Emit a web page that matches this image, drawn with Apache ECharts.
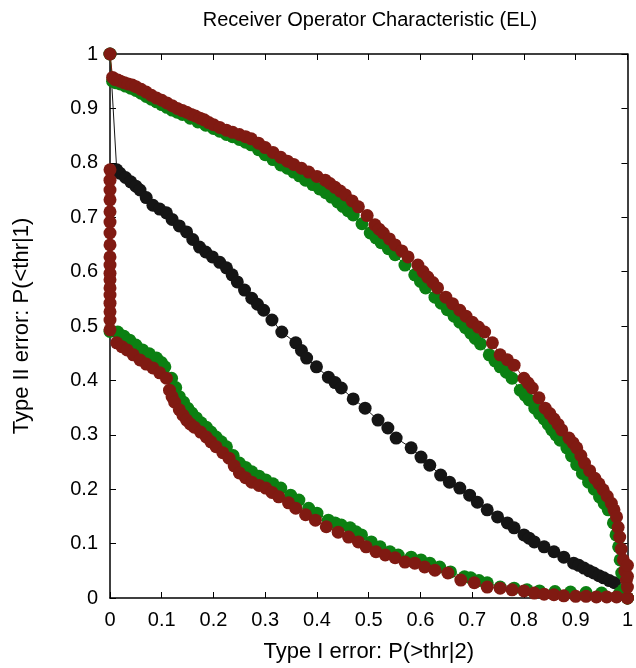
<!DOCTYPE html>
<html>
<head>
<meta charset="utf-8">
<script src="https://cdn.jsdelivr.net/npm/echarts@6/dist/echarts.min.js"></script>
<style>html,body{margin:0;padding:0;background:#fff}#c{width:636px;height:668px}</style>
</head>
<body>
<div id="c"></div>
<script>
const titleText = "Receiver Operator Characteristic (EL)";
const xName = "Type I error: P(>thr|2)";
const yName = "Type II error: P(<thr|1)";

const greenUpper = [[0,1],[0.005,0.95],[0.012,0.947],[0.02,0.945],[0.03,0.941],[0.04,0.937],[0.05,0.933],[0.06,0.928],[0.07,0.922],[0.08,0.917],[0.09,0.912],[0.1,0.907],[0.11,0.902],[0.12,0.897],[0.13,0.893],[0.14,0.889],[0.155,0.882],[0.17,0.875],[0.185,0.869],[0.2,0.863],[0.212,0.858],[0.225,0.852],[0.237,0.848],[0.25,0.843],[0.262,0.838],[0.273,0.833],[0.287,0.824],[0.3,0.815],[0.315,0.806],[0.33,0.796],[0.343,0.79],[0.355,0.783],[0.366,0.776],[0.378,0.768],[0.392,0.76],[0.405,0.752],[0.417,0.745],[0.428,0.737],[0.44,0.728],[0.45,0.72],[0.46,0.712],[0.47,0.704],[0.487,0.688],[0.503,0.671],[0.514,0.662],[0.524,0.653],[0.538,0.642],[0.551,0.631],[0.57,0.612],[0.589,0.594],[0.6,0.582],[0.61,0.57],[0.628,0.553],[0.64,0.542],[0.652,0.53],[0.665,0.518],[0.676,0.507],[0.687,0.497],[0.697,0.487],[0.706,0.477],[0.716,0.467],[0.733,0.447],[0.744,0.436],[0.754,0.425],[0.766,0.415],[0.777,0.404],[0.793,0.382],[0.802,0.373],[0.81,0.364],[0.821,0.349],[0.83,0.339],[0.839,0.329],[0.847,0.319],[0.854,0.309],[0.862,0.3],[0.87,0.29],[0.883,0.276],[0.892,0.261],[0.902,0.245],[0.913,0.229],[0.925,0.213],[0.936,0.2],[0.946,0.186],[0.955,0.174],[0.963,0.162],[0.973,0.138],[0.978,0.116],[0.983,0.094],[0.986,0.07],[0.989,0.046],[0.992,0.015],[1,0]];

const greenLower = [[0,0.49],[0.015,0.489],[0.027,0.481],[0.038,0.474],[0.05,0.465],[0.063,0.456],[0.076,0.449],[0.09,0.441],[0.099,0.433],[0.106,0.425],[0.119,0.404],[0.127,0.387],[0.134,0.37],[0.142,0.36],[0.15,0.349],[0.158,0.34],[0.167,0.331],[0.176,0.322],[0.186,0.314],[0.195,0.305],[0.205,0.296],[0.215,0.287],[0.225,0.278],[0.238,0.262],[0.25,0.248],[0.262,0.24],[0.274,0.232],[0.288,0.224],[0.301,0.217],[0.315,0.21],[0.33,0.202],[0.349,0.189],[0.365,0.18],[0.384,0.165],[0.4,0.156],[0.422,0.143],[0.435,0.138],[0.447,0.134],[0.464,0.129],[0.475,0.122],[0.486,0.116],[0.505,0.103],[0.522,0.094],[0.541,0.085],[0.557,0.079],[0.582,0.075],[0.601,0.07],[0.618,0.064],[0.637,0.057],[0.658,0.048],[0.685,0.039],[0.697,0.037],[0.713,0.032],[0.729,0.028],[0.754,0.02],[0.781,0.018],[0.806,0.015],[0.83,0.013],[0.86,0.012],[0.89,0.011],[0.92,0.01],[0.95,0.009],[0.985,0.009],[1,0]];

const redUpper = [[0,1],[0.005,0.957],[0.01,0.953],[0.015,0.952],[0.02,0.95],[0.028,0.947],[0.035,0.945],[0.043,0.943],[0.05,0.94],[0.06,0.935],[0.07,0.93],[0.08,0.924],[0.09,0.919],[0.1,0.915],[0.11,0.91],[0.12,0.905],[0.13,0.9],[0.14,0.896],[0.148,0.893],[0.157,0.889],[0.165,0.886],[0.174,0.882],[0.182,0.879],[0.191,0.874],[0.2,0.87],[0.212,0.865],[0.225,0.86],[0.237,0.856],[0.25,0.852],[0.262,0.848],[0.273,0.844],[0.287,0.836],[0.3,0.828],[0.315,0.819],[0.33,0.81],[0.343,0.803],[0.355,0.797],[0.37,0.79],[0.384,0.783],[0.4,0.775],[0.416,0.768],[0.425,0.762],[0.435,0.755],[0.445,0.748],[0.455,0.741],[0.468,0.73],[0.48,0.719],[0.497,0.703],[0.512,0.686],[0.52,0.678],[0.528,0.671],[0.54,0.66],[0.551,0.649],[0.564,0.638],[0.576,0.627],[0.595,0.612],[0.605,0.6],[0.614,0.59],[0.624,0.58],[0.633,0.57],[0.649,0.553],[0.662,0.541],[0.676,0.529],[0.688,0.518],[0.7,0.507],[0.712,0.498],[0.724,0.489],[0.739,0.469],[0.754,0.447],[0.768,0.438],[0.781,0.428],[0.8,0.404],[0.808,0.395],[0.816,0.386],[0.829,0.368],[0.841,0.349],[0.85,0.339],[0.858,0.329],[0.866,0.319],[0.873,0.309],[0.887,0.294],[0.895,0.285],[0.902,0.276],[0.91,0.262],[0.917,0.248],[0.927,0.234],[0.937,0.22],[0.945,0.21],[0.953,0.199],[0.961,0.187],[0.969,0.174],[0.974,0.162],[0.979,0.149],[0.982,0.13],[0.985,0.112],[0.988,0.09],[0.992,0.07],[0.995,0.05],[0.998,0.033],[1,0]];

const redLower = [[0,0.787],[0,0.768],[0,0.75],[0,0.732],[0,0.71],[0,0.691],[0,0.671],[0,0.649],[0,0.627],[0,0.612],[0,0.597],[0,0.585],[0,0.57],[0,0.557],[0,0.542],[0,0.526],[0,0.511],[0,0.493],[0.013,0.469],[0.023,0.462],[0.033,0.456],[0.045,0.447],[0.058,0.4375],[0.07,0.43],[0.083,0.423],[0.096,0.414],[0.109,0.404],[0.115,0.382],[0.12,0.37],[0.125,0.36],[0.134,0.346],[0.141,0.336],[0.148,0.327],[0.155,0.32],[0.163,0.314],[0.175,0.305],[0.186,0.296],[0.195,0.287],[0.205,0.278],[0.218,0.267],[0.23,0.257],[0.24,0.243],[0.25,0.23],[0.262,0.221],[0.274,0.213],[0.288,0.207],[0.301,0.202],[0.313,0.194],[0.326,0.186],[0.345,0.175],[0.359,0.165],[0.378,0.153],[0.397,0.143],[0.418,0.131],[0.441,0.121],[0.461,0.112],[0.48,0.103],[0.495,0.094],[0.514,0.085],[0.532,0.079],[0.551,0.074],[0.57,0.066],[0.589,0.064],[0.608,0.057],[0.628,0.051],[0.653,0.046],[0.678,0.033],[0.704,0.028],[0.729,0.02],[0.754,0.018],[0.777,0.015],[0.8,0.013],[0.82,0.009],[0.839,0.007],[0.858,0.006],[0.877,0.004],[0.9,0.003],[0.92,0.003],[0.94,0.002],[0.96,0.002],[0.979,0.002],[1,0],[1,0.02],[1,0.04],[1,0.06]];

const blackCurve = [[0,1],[0.013,0.787],[0.019,0.781],[0.03,0.773],[0.04,0.765],[0.05,0.757],[0.058,0.75],[0.07,0.736],[0.083,0.722],[0.096,0.715],[0.109,0.708],[0.12,0.696],[0.134,0.684],[0.148,0.673],[0.16,0.659],[0.173,0.645],[0.185,0.636],[0.198,0.627],[0.212,0.617],[0.225,0.607],[0.236,0.594],[0.246,0.581],[0.26,0.566],[0.274,0.551],[0.285,0.54],[0.297,0.529],[0.313,0.511],[0.332,0.489],[0.359,0.469],[0.37,0.455],[0.38,0.441],[0.399,0.425],[0.422,0.406],[0.435,0.396],[0.447,0.386],[0.47,0.366],[0.493,0.349],[0.518,0.327],[0.537,0.3125],[0.553,0.294],[0.582,0.276],[0.601,0.259],[0.618,0.244],[0.639,0.226],[0.656,0.213],[0.676,0.202],[0.695,0.189],[0.71,0.176],[0.729,0.162],[0.749,0.149],[0.768,0.138],[0.781,0.129],[0.8,0.116],[0.81,0.11],[0.82,0.103],[0.839,0.094],[0.858,0.085],[0.877,0.075],[0.896,0.064],[0.906,0.06],[0.916,0.055],[0.926,0.05],[0.935,0.046],[0.945,0.041],[0.954,0.037],[0.965,0.032],[0.975,0.028],[1,0]];

const GREEN = '#0b8012';
const RED = '#801a12';
const BLACK = '#151515';
const FONT = 'Liberation Sans, Arial, sans-serif';

function mkSeries(data, color, z) {
  return {
    type: 'line', data: data, z: z,
    symbol: 'circle', symbolSize: 13, showSymbol: true,
    lineStyle: { color: color, width: 1 },
    itemStyle: { color: color },
    animation: false, clip: false, silent: true
  };
}

const axisCommon = {
  type: 'value', min: 0, max: 1, interval: 0.1,
  axisLine: { show: true, onZero: false, lineStyle: { color: '#000', width: 1.5 } },
  axisTick: { show: true, inside: true, length: 6, lineStyle: { color: '#000', width: 1 } },
  splitLine: { show: false },
  axisLabel: { color: '#000', fontSize: 20, fontFamily: FONT }
};

const chart = echarts.init(document.getElementById('c'), null, { renderer: 'canvas' });
chart.setOption({
  backgroundColor: '#fff',
  animation: false,
  graphic: [{
    type: 'text', x: 370, y: 20,
    style: { text: titleText, textAlign: 'center', textVerticalAlign: 'middle', font: '20px ' + FONT, fill: '#000' }
  }],
  grid: { left: 110, right: 5, top: 54, bottom: 70, containLabel: false },
  xAxis: [
    Object.assign({}, axisCommon, {
      position: 'bottom', name: xName, nameLocation: 'middle', nameGap: 43,
      nameTextStyle: { color: '#000', fontSize: 22, fontFamily: FONT },
      axisLabel: Object.assign({}, axisCommon.axisLabel, { margin: 12 })
    }),
    Object.assign({}, axisCommon, { position: 'top', axisLabel: { show: false } })
  ],
  yAxis: [
    Object.assign({}, axisCommon, {
      position: 'left', name: yName, nameLocation: 'middle', nameGap: 77,
      nameTextStyle: { color: '#000', fontSize: 22, fontFamily: FONT },
      axisLabel: Object.assign({}, axisCommon.axisLabel, { margin: 12 })
    }),
    Object.assign({}, axisCommon, { position: 'right', axisLabel: { show: false } })
  ],
  series: [
    mkSeries(blackCurve, BLACK, 2),
    mkSeries(greenUpper, GREEN, 3),
    mkSeries(greenLower, GREEN, 3),
    mkSeries(redUpper, RED, 4),
    mkSeries(redLower, RED, 4)
  ]
});
</script>
</body>
</html>
